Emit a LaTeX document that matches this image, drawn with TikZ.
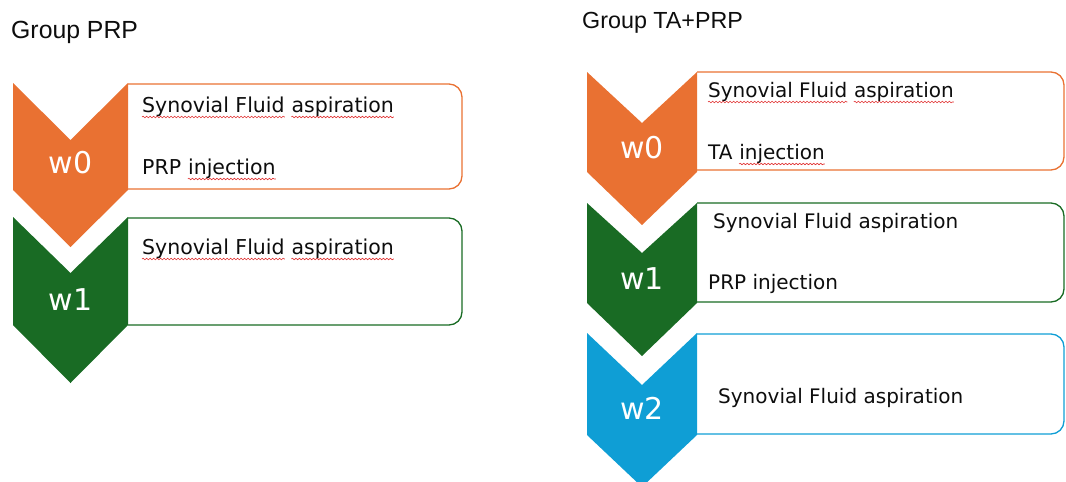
\documentclass[tikz,border=0pt]{standalone}
\usepackage{fontspec}
\setmainfont{DejaVu Sans}
\newfontfamily\titlefont{Liberation Sans}
\usetikzlibrary{decorations.pathmorphing}
\definecolor{wOrange}{HTML}{E97132}
\definecolor{wGreen}{HTML}{196B24}
\definecolor{wBlue}{HTML}{0F9ED5}
\definecolor{txt}{HTML}{0D0D0D}
\definecolor{spell}{HTML}{E03030}
\begin{document}
\begin{tikzpicture}[x=1pt,y=-1pt,
  tbox/.style={draw=#1, line width=1.3pt, rounded corners=13pt},
  wlab/.style={text=white, font=\fontsize{30}{32}\selectfont, anchor=base, inner sep=0pt},
  itemtxt/.style={text=txt, font=\fontsize{20.5}{24}\selectfont, anchor=base west, inner sep=0pt},
  itemtxtr/.style={text=txt, font=\fontsize{20}{24}\selectfont, anchor=base west, inner sep=0pt},
  grouptitle/.style={text=txt, font=\titlefont\fontsize{24.8}{28}\selectfont, anchor=base west, inner sep=0pt},
  wavy/.style={draw=spell, line width=0.6pt, decorate, decoration={snake, amplitude=0.8pt, segment length=3.5pt}}]
\useasboundingbox (0,0) rectangle (1066,482);
\clip (0,0) rectangle (1066,482);
% titles
\node[grouptitle] (t1) at (11,38) {Group PRP};
\node[grouptitle, font=\titlefont\fontsize{23.3}{28}\selectfont] (t2) at (582,28) {Group TA+PRP};
% left group boxes
\draw[tbox=wOrange] (128,84) -- (462,84) -- (462,189) -- (128,189);
\draw[tbox=wGreen] (128,218) -- (462,218) -- (462,325) -- (128,325);
% left chevrons
\fill[wOrange] (13,83) -- (70.5,140) -- (128,83) -- (128,190) -- (70.5,247) -- (13,190) -- cycle;
\fill[wGreen] (13,217) -- (70.5,273) -- (128,217) -- (128,325) -- (70.5,383) -- (13,325) -- cycle;
\node[wlab] (lw0) at (70.5,173) {w0};
\node[wlab] (lw1) at (70.5,310) {w1};
% left texts
\node[itemtxt] (l0a) at (142,112) {Synovial Fluid};
\node[itemtxt] (l0a2) at ([xshift=6.5pt]l0a.base east) {aspiration};
\node[itemtxt] (l0b) at (142,174) {PRP};
\node[itemtxt] (l0b2) at ([xshift=6.5pt]l0b.base east) {injection};
\node[itemtxt] (l1a) at (142,254) {Synovial Fluid};
\node[itemtxt] (l1a2) at ([xshift=6.5pt]l1a.base east) {aspiration};
\draw[wavy] ([yshift=-5pt]l0a.base west) -- ([yshift=-5pt]l0a.base east);
\draw[wavy] ([yshift=-5pt]l0a2.base west) -- ([yshift=-5pt]l0a2.base east);
\draw[wavy] ([yshift=-5pt]l0b2.base west) -- ([yshift=-5pt]l0b2.base east);
\draw[wavy] ([yshift=-5pt]l1a.base west) -- ([yshift=-5pt]l1a.base east);
\draw[wavy] ([yshift=-5pt]l1a2.base west) -- ([yshift=-5pt]l1a2.base east);
% right group boxes
\draw[tbox=wOrange] (697,72) -- (1064,72) -- (1064,170) -- (697,170);
\draw[tbox=wGreen] (697,203) -- (1064,203) -- (1064,302) -- (697,302);
\draw[tbox=wBlue] (697,334) -- (1064,334) -- (1064,434) -- (697,434);
% right chevrons
\fill[wOrange] (587,72) -- (642,123) -- (697,72) -- (697,172) -- (642,225) -- (587,172) -- cycle;
\fill[wGreen] (587,203) -- (642,253) -- (697,203) -- (697,303) -- (642,356) -- (587,303) -- cycle;
\fill[wBlue] (587,333) -- (642,385) -- (697,333) -- (697,435) -- (642,487) -- (587,435) -- cycle;
\node[wlab] (rw0) at (642,158) {w0};
\node[wlab] (rw1) at (642,289) {w1};
\node[wlab] (rw2) at (642,419) {w2};
% right texts
\node[itemtxtr] (r0a) at (708,97) {Synovial Fluid};
\node[itemtxtr] (r0a2) at ([xshift=6.4pt]r0a.base east) {aspiration};
\node[itemtxtr] (r0b) at (708,159) {TA};
\node[itemtxtr] (r0b2) at ([xshift=6.4pt]r0b.base east) {injection};
\draw[wavy] ([yshift=-5pt]r0a.base west) -- ([yshift=-5pt]r0a.base east);
\draw[wavy] ([yshift=-5pt]r0a2.base west) -- ([yshift=-5pt]r0a2.base east);
\draw[wavy] ([yshift=-5pt]r0b2.base west) -- ([yshift=-5pt]r0b2.base east);
\node[itemtxtr] (r1a) at (713,228) {Synovial Fluid aspiration};
\node[itemtxtr] (r1b) at (708,289) {PRP injection};
\node[itemtxtr] (r2a) at (718,403) {Synovial Fluid aspiration};
\end{tikzpicture}
\end{document}
